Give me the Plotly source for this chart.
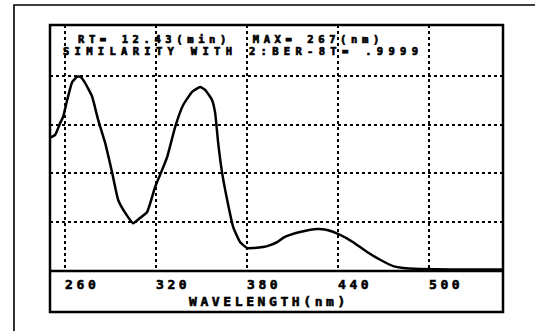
import plotly.graph_objects as go

# Spectrum (wavelength in nm, relative absorbance in grid units)
wavelength = [250.1, 253.4, 256.7, 258.7, 261.3, 264.6, 267.9, 269.9, 273.2, 277.8,
              281.8, 286.4, 291.0, 294.9, 299.6, 304.8, 309.5, 314.1, 319.3, 322.6,
              327.3, 332.5, 337.8, 343.7, 349.0, 352.3, 356.9, 358.9, 360.9, 363.5,
              366.8, 370.8, 375.4, 380.0, 384.0, 390.5, 395.2, 399.8, 403.7, 408.3,
              414.9, 426.2, 432.7, 441.3, 449.9, 459.1, 467.7, 476.3, 482.9, 494.1,
              513.8, 548.8]
absorbance = [2.73, 2.79, 3.03, 3.16, 3.50, 3.87, 3.98, 3.98, 3.85, 3.57,
              3.09, 2.62, 2.01, 1.46, 1.19, 0.98, 1.09, 1.21, 1.72, 1.97,
              2.34, 2.95, 3.40, 3.67, 3.77, 3.71, 3.50, 3.24, 2.62, 2.01,
              1.46, 0.90, 0.59, 0.47, 0.47, 0.49, 0.53, 0.59, 0.68, 0.74,
              0.80, 0.86, 0.84, 0.74, 0.59, 0.39, 0.23, 0.10, 0.06, 0.04,
              0.03, 0.03]

x_tick_values = [260, 320, 380, 440, 500]
x_tick_labels = ["260", "320", "380", "440", "500"]
y_grid_values = [1, 2, 3, 4]

header_line1 = "RT= 12.43(min)  MAX= 267(nm)"
header_line2 = "SIMILARITY WITH 2:BER-8T= .9999"
x_title = "WAVELENGTH(nm)"

MONO = "DejaVu Sans Mono"


def spaced(text, ls, stroke=0.6):
    return (f'<span style="letter-spacing:{ls}px;stroke:black;'
            f'stroke-width:{stroke}px">{text}</span>')


fig = go.Figure()
fig.add_trace(go.Scatter(
    x=wavelength, y=absorbance, mode="lines",
    line=dict(color="black", width=2.5, shape="spline", smoothing=0.4),
    hoverinfo="skip", showlegend=False,
))

fig.update_layout(
    width=535, height=331, autosize=False,
    margin=dict(l=50, r=32, t=25, b=60),
    paper_bgcolor="white", plot_bgcolor="white",
    showlegend=False,
    xaxis=dict(
        range=[250, 548.7], tickmode="array", tickvals=x_tick_values,
        ticktext=[spaced(t, 3.6) for t in x_tick_labels],
        showgrid=True, gridcolor="black", gridwidth=1.6, griddash="dot",
        zeroline=False, showline=False, ticks="",
        tickfont=dict(family=MONO, size=13, color="black", weight="bold"),
        ticklabelshift=17, ticklabelstandoff=4,
        fixedrange=True,
    ),
    yaxis=dict(
        range=[0, 5.04], tickmode="array", tickvals=y_grid_values,
        showticklabels=False, showgrid=True, gridcolor="black",
        gridwidth=1.6, griddash="dot", zeroline=False, showline=False,
        ticks="", fixedrange=True,
    ),
    shapes=[
        # inner frame (plot + label strip)
        dict(type="rect", xref="paper", yref="paper", x0=0, x1=1, y0=-0.1667, y1=1,
             line=dict(color="black", width=2.5), layer="above"),
        # axis line
        dict(type="line", xref="paper", yref="paper", x0=0, x1=1, y0=0, y1=0,
             line=dict(color="black", width=2.5), layer="above"),
        # outer (cropped) frame
        dict(type="path", xref="paper", yref="paper",
             path="M -0.0795 -0.2439 L -0.0795 1.0813 L 1.0706 1.0813",
             line=dict(color="black", width=1.6), layer="above"),
    ],
    annotations=[
        dict(text=spaced(header_line1, 4.6, 0.7), xref="paper", yref="paper",
             x=0.059, y=0.942, xanchor="left", yanchor="middle", showarrow=False,
             borderpad=0,
             font=dict(family=MONO, size=10.5, color="black", weight="bold")),
        dict(text=spaced(header_line2, 5.3, 0.7), xref="paper", yref="paper",
             x=0.026, y=0.893, xanchor="left", yanchor="middle", showarrow=False,
             borderpad=0,
             font=dict(family=MONO, size=10.5, color="black", weight="bold")),
        dict(text=spaced(x_title, 3.6), xref="paper", yref="paper",
             x=0.484, y=-0.126, xanchor="center", yanchor="middle", showarrow=False,
             font=dict(family=MONO, size=13, color="black", weight="bold")),
    ],
)

fig.write_html(
    "out.html",
    config={"displayModeBar": False},
    post_script="document.body.style.margin='0';document.body.style.overflow='hidden';",
)
